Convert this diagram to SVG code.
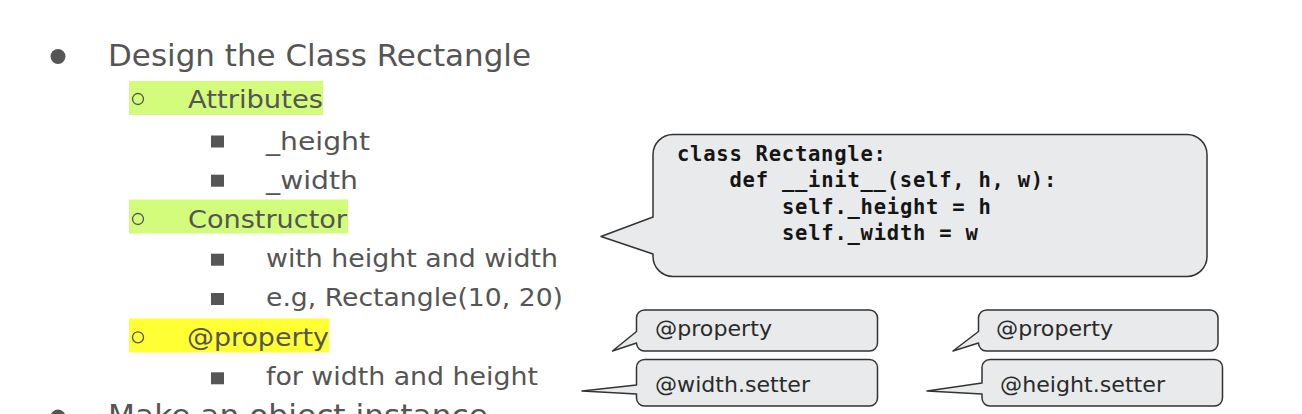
<svg xmlns="http://www.w3.org/2000/svg" width="1302" height="414" viewBox="0 0 1302 414">
<style>
.t1{font-family:"DejaVu Sans","Open Sans",sans-serif;font-size:29.5px;fill:#555555}
.t2{font-family:"DejaVu Sans","Open Sans",sans-serif;font-size:24.5px;fill:#555555}
.code{font-family:"DejaVu Sans Mono","Liberation Mono",monospace;font-size:20.5px;font-weight:bold;fill:#151515;letter-spacing:0.76px}
.ct{font-family:"DejaVu Sans","Open Sans",sans-serif;font-size:21px;fill:#2a2a2a}
.bub{fill:#e8eaeb;stroke:#333333;stroke-width:1.5;stroke-linejoin:round}
.dot{fill:#555555}
.ring{fill:none;stroke:#555555;stroke-width:1.3}
.sq{fill:#555555}
.hl-g{fill:#d3fc7c}
.hl-y{fill:#ffff33}
</style>
<rect width="1302" height="414" fill="#ffffff"/>
<g id="outline">
  <rect class="hl-g" x="129" y="81" width="194" height="34"/>
  <rect class="hl-g" x="129" y="199.5" width="219" height="34"/>
  <rect class="hl-y" x="129" y="318.5" width="200" height="34"/>
  <circle class="dot" cx="58" cy="56.5" r="7.5"/>
  <text class="t1" x="108" y="66" textLength="423" lengthAdjust="spacingAndGlyphs">Design the Class Rectangle</text>
  <circle class="ring" cx="138" cy="99" r="5.5"/>
  <text class="t2" x="188" y="108" textLength="135" lengthAdjust="spacingAndGlyphs">Attributes</text>
  <rect class="sq" x="211" y="135.5" width="13" height="12"/>
  <text class="t2" x="266" y="149.5" textLength="104" lengthAdjust="spacingAndGlyphs">_height</text>
  <rect class="sq" x="211" y="174.7" width="13" height="12"/>
  <text class="t2" x="266" y="188.5" textLength="92" lengthAdjust="spacingAndGlyphs">_width</text>
  <circle class="ring" cx="138" cy="219" r="5.5"/>
  <text class="t2" x="188" y="227.5" textLength="159" lengthAdjust="spacingAndGlyphs">Constructor</text>
  <rect class="sq" x="211" y="253.7" width="13" height="12"/>
  <text class="t2" x="266" y="266.5" textLength="292" lengthAdjust="spacingAndGlyphs">with height and width</text>
  <rect class="sq" x="211" y="293" width="13" height="12"/>
  <text class="t2" x="266" y="305.5" textLength="297" lengthAdjust="spacingAndGlyphs">e.g, Rectangle(10, 20)</text>
  <circle class="ring" cx="138" cy="337.3" r="5.5"/>
  <text class="t2" x="187" y="345.5" textLength="142" lengthAdjust="spacingAndGlyphs">@property</text>
  <rect class="sq" x="211" y="372.3" width="13" height="12"/>
  <text class="t2" x="266" y="385" textLength="272" lengthAdjust="spacingAndGlyphs">for width and height</text>
  <circle class="dot" cx="58" cy="417" r="7.5"/>
  <text class="t1" x="108" y="426" textLength="380" lengthAdjust="spacingAndGlyphs">Make an object instance</text>
</g>
<g id="code-callout">
  <path class="bub" d="M673,134.5 H1187 A20,20 0 0 1 1207,154.5 V256.5 A20,20 0 0 1 1187,276.5 H673 A20,20 0 0 1 653,256.5 V254 L601,236.5 L653,217 V154.5 A20,20 0 0 1 673,134.5 Z"/>
  <text class="code" x="677" y="160.5">class Rectangle:</text>
  <text class="code" x="729.5" y="187">def __init__(self, h, w):</text>
  <text class="code" x="782" y="213.5">self._height = h</text>
  <text class="code" x="782" y="240">self._width = w</text>
</g>
<g id="callout-property-width">
  <path class="bub" d="M644.5,310 H869.5 A8,8 0 0 1 877.5,318 V343 A8,8 0 0 1 869.5,351 H644.5 A8,8 0 0 1 636.5,343 L612.5,351 L636.5,331.5 V318 A8,8 0 0 1 644.5,310 Z"/>
  <text class="ct" x="655" y="336" textLength="117" lengthAdjust="spacingAndGlyphs">@property</text>
</g>
<g id="callout-width-setter">
  <path class="bub" d="M644.5,359.5 H869.5 A8,8 0 0 1 877.5,367.5 V398 A8,8 0 0 1 869.5,406 H644.5 A8,8 0 0 1 636.5,398 V394 L582,391 L636.5,385 V367.5 A8,8 0 0 1 644.5,359.5 Z"/>
  <text class="ct" x="655" y="392" textLength="155" lengthAdjust="spacingAndGlyphs">@width.setter</text>
</g>
<g id="callout-property-height">
  <path class="bub" d="M986.5,310 H1210 A8,8 0 0 1 1218,318 V343 A8,8 0 0 1 1210,351 H986.5 A8,8 0 0 1 978.5,343 L953,351 L978.5,331.5 V318 A8,8 0 0 1 986.5,310 Z"/>
  <text class="ct" x="996" y="336" textLength="117" lengthAdjust="spacingAndGlyphs">@property</text>
</g>
<g id="callout-height-setter">
  <path class="bub" d="M990,359.5 H1214.5 A8,8 0 0 1 1222.5,367.5 V398 A8,8 0 0 1 1214.5,406 H990 A8,8 0 0 1 982,398 V394 L927,391 L982,383 V367.5 A8,8 0 0 1 990,359.5 Z"/>
  <text class="ct" x="1000" y="392" textLength="165" lengthAdjust="spacingAndGlyphs">@height.setter</text>
</g>
<g id="connectors"></g>
</svg>
